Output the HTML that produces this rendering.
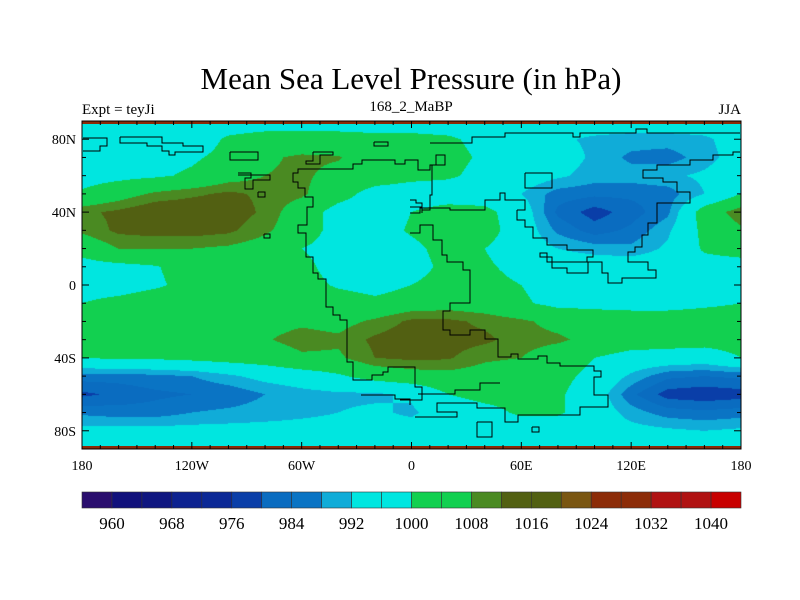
<!DOCTYPE html>
<html><head><meta charset="utf-8">
<style>
body{margin:0;background:#fff;}
#wrap{position:relative;width:800px;height:600px;overflow:hidden;background:#fff;font-family:"Liberation Serif",serif;}
canvas{position:absolute;left:82px;top:121px;}
svg{position:absolute;left:0;top:0;}
</style></head>
<body>
<div id="wrap">
<canvas id="field" width="659" height="328"></canvas>
<svg id="ov" width="800" height="600">
<text x="411" y="89" font-size="31" text-anchor="middle">Mean Sea Level Pressure (in hPa)</text>
<text x="82" y="114" font-size="15">Expt = teyJi</text>
<text x="411" y="111" font-size="15" text-anchor="middle">168_2_MaBP</text>
<text x="741" y="114" font-size="15" text-anchor="end">JJA</text>
</svg>
</div>
<script>
// grid data: longitudes, latitudes, pressure values (hPa)
const lons=[-180,-160,-140,-120,-100,-80,-60,-40,-20,0,20,40,60,80,100,120,140,160,180];
const lats=[90,80,70,60,50,40,30,20,10,0,-10,-20,-30,-40,-50,-60,-70,-80,-90];
const row90 =[996,996,996,996,996,996,996,996,996,996,996,996,996,996,996,996,996,996,996];
const row80 =[996,996,996,996,1001,1003,1003,1003,1002,1002,1001,998,996,993,991,990,990,991,995];
const row70 =[996,997,998,999,1002,1007,1009,1008.5,1004,1003,1002,999,997,995,991,987,986,990,995];
const row60 =[997,998,999,1001,1005,1008,1009,1006,1004,1002,1001,998,996,993,990,990,991,993,996];
const row50 =[1001,1005,1009,1011,1013,1011,1009,1003,997,996,996,996,992,986,985,985,986,992,1000];
const row40 =[1011,1013,1016,1016,1015,1011,1004,997,996,1000,1003,1002,996,983,978,982,987,1004,1011];
const row30 =[1009,1013,1014,1014,1013,1009,1004,997,996,1001,1004,1003,996,987,982,985,991,1002,1007];
const row20 =[1003,1008,1008,1008,1007,1005,1000,997,996,998,1003,1000,996,992,990,989,993,1001,1003];
const row10 =[997,998,999.5,1003,1004,1004,1002,997,996,997,1002,1001,998,996,996,996,996,997,997];
const row0  =[997,997,999,1002,1004,1004,1003,999,997,1000,1003,1002,1000,997,997,997,997,997,997];
const rowS10=[1000,1002,1004,1004,1004,1004,1005,1004,1002,1004,1005,1004,1001,998,998,998,998,999,1000];
const rowS20=[1003,1004,1005,1005,1005,1006,1007,1006,1009,1013,1013,1011,1009,1006,1004,1003,1003,1003,1003];
const rowS30=[1004,1005,1005,1005,1006,1007.5,1010,1009,1013,1015,1014,1013,1010,1009,1006,1004,1003,1003,1003];
const rowS40=[1000,1001,1001,1002,1003,1004,1007,1007,1012,1013,1012.5,1009,1008,1004,1000,997,997,996,1000];
const rowS50=[986,986,987,988,991,994,996,999,1003,1005,1006,1005,1004,1002,998,991,985,984,985];
const rowS60=[979,981,983,984,985,988,990,991,991,993,1000,1002,1002,1001,996,985,978,977,978];
const rowS70=[987,986,986,988,989,990,991,992,993,991,996,998,1001,1001,996,990,986,985,986];
const rowS80=[994,994,994,994,994,994,994,994,994,995,996,996,996,995,995,994,993,992,993];
const rowS90=[996,996,996,996,996,996,996,996,996,996,996,996,996,996,996,996,996,996,996];
const grid=[row90,row80,row70,row60,row50,row40,row30,row20,row10,row0,rowS10,rowS20,rowS30,rowS40,rowS50,rowS60,rowS70,rowS80,rowS90];
// colour levels
const levels=[960,964,968,972,976,980,984,988,992,996,1000,1004,1008,1012,1016,1020,1024,1028,1032,1036,1040];
const levelLabels=["960","968","976","984","992","1000","1008","1016","1024","1032","1040"];
const colors=["#2a0e6e","#11117c","#0f1680","#0d2290","#0b2896","#0a3ea8","#0a6cc0","#0a74c4","#10acd8","#00e6e0","#00e6e0","#12d050","#12d050","#4a8a22","#526012","#526012","#7a5612","#8c2c08","#8c2c08","#b01212","#b01212","#c80000"];

const X0=82,X1=741,Y0=121,Y1=449;
const xOf=lon=>X0+(lon+180)/360*(X1-X0);
const yOf=lat=>Y0+(90-lat)/180*(Y1-Y0);
function hex(c){return [parseInt(c.slice(1,3),16),parseInt(c.slice(3,5),16),parseInt(c.slice(5,7),16)];}
const rgb=colors.map(hex);
function binOf(v){let b=0;for(let i=0;i<levels.length;i++){if(v>=levels[i])b=i+1;}return b;}
function sample(lon,lat){
  const fx=(lon-lons[0])/(lons[1]-lons[0]);const fy=(lats[0]-lat)/(lats[0]-lats[1]);
  let i=Math.min(Math.floor(fx),lons.length-2),j=Math.min(Math.floor(fy),lats.length-2);
  i=Math.max(i,0);j=Math.max(j,0);
  const tx=fx-i,ty=fy-j;
  const a=grid[j][i],b=grid[j][i+1],c=grid[j+1][i],d=grid[j+1][i+1];
  return (a*(1-tx)+b*tx)*(1-ty)+(c*(1-tx)+d*tx)*ty;
}
const cv=document.getElementById('field');const ctx=cv.getContext('2d');
const W=cv.width,H=cv.height;const img=ctx.createImageData(W,H);
for(let py=0;py<H;py++){for(let px=0;px<W;px++){
  const lon=-180+(px+0.5)/W*360,lat=90-(py+0.5)/H*180;
  const c=rgb[binOf(sample(lon,lat))];const k=(py*W+px)*4;
  img.data[k]=c[0];img.data[k+1]=c[1];img.data[k+2]=c[2];img.data[k+3]=255;}}
ctx.putImageData(img,0,0);

const NS='http://www.w3.org/2000/svg';const ov=document.getElementById('ov');
function mk(t,a){const e=document.createElementNS(NS,t);for(const k in a)e.setAttribute(k,a[k]);ov.appendChild(e);return e;}

// coastline outlines (approximate, pixel traces)
const coasts=[
"83,138 107,138 107,146 100,146 100,151 83,151",
"120,137 120,143 147,143 147,146 162,146 162,151 169,151 169,155 175,155 175,152 203,152 203,146 183,146 183,143 162,143 162,137 120,137",
"374,142 388,142 388,146 374,146 374,142",
"230,152 258,152 258,160 230,160 230,152",
"313,152 333,152 333,155 320,155 320,164 306,164 306,161 313,161 313,152",
"238,173 251,173 251,178 245,178 245,189 253,189 253,180 270,180 270,175 238,175",
"258,192 265,192 265,197 258,197 258,192",
"264,234 270,234 270,238 264,238 264,234",
"410,160 405,160 405,164 395,164 395,160 362,160 362,164 353,164 353,169 298,169 298,173 293,173 293,182 298,182 298,188 305,188 305,197 313,197 313,207 307,207 307,225 298,225 298,233 306,233 306,257 313,257 313,273 318,273 318,279 326,279 326,307 333,307 333,315 340,315 340,320 347,320 347,362 353,362 353,380 372,380 372,375 383,375 383,372 388,372 388,367 410,367",
"400,367 415,367 415,387 422,387 422,400 400,400",
"361,395 395,395 395,399 410,399 410,405",
"410,160 418,160 418,170 430,170 430,165 445,165 445,155 436,155 436,165 432,165 432,195 430,195 430,210 422,210 422,207 410,207",
"430,143 472,143 472,137 505,137 505,133 573,133 573,137 580,137 580,133 636,133 636,129 647,129 647,133 740,133",
"740,152 733,152 733,155 713,155 713,160 690,160 690,165 657,165 657,170 643,170 643,178 663,178 663,182 677,182 677,192 690,192 690,203 657,203 657,223 648,223 648,235 642,235 642,247 635,247 635,252 628,252 628,262 648,262 648,270 656,270 656,278 622,278 622,283 608,283 608,273 602,273 602,262 588,262 588,273 567,273 567,268 552,268 552,257 540,257 540,253 547,253 547,262 587,262 587,257 593,257 593,250 567,250 567,245 547,245 547,238 533,238 533,227 525,227 525,220 517,220 517,210",
"525,173 552,173 552,188 525,188 525,173",
"517,210 525,210 525,200 505,200 505,193 500,193 500,200 485,200 485,210 450,210 450,208 420,208 420,213 410,213",
"410,200 416,200 416,203 422,203 422,213",
"410,233 420,233 420,225 433,225 433,240 442,240 442,255 447,255 447,262 463,262 463,270 470,270 470,303 450,303 450,311 443,311 443,330 450,330 450,335 470,335 470,330 485,330 485,339 498,339 498,357 511,357 511,354 518,354 518,359 538,359 538,356 547,356 547,363 560,363 560,366 594,366 594,371 601,371 601,377 594,377 594,395 608,395 608,407 580,407 580,415 518,415 518,422 505,422 505,408 477,408 477,403 437,403 437,412 457,412 457,417 415,417",
"477,422 492,422 492,437 477,437 477,422",
"532,427 539,427 539,432 532,432 532,427",
"418,394 455,394 455,390 480,390 480,383 500,383"
];
coasts.forEach((p,i)=>{
  const e=mk('polyline',{points:p,fill:'none',stroke:'#000','stroke-width':'1'});
  
  
});

// top/bottom edge strips
const s1=mk('rect',{x:X0,y:Y0,width:X1-X0,height:3,fill:'#8a2a08'});


const s2=mk('rect',{x:X0,y:Y1-3,width:X1-X0,height:3,fill:'#8a2a08'});



// frame
const fr=mk('rect',{x:X0,y:Y0,width:X1-X0,height:Y1-Y0,fill:'none',stroke:'#000','stroke-width':'1'});



// ticks
const xTickVals=[-180,-120,-60,0,60,120,180];
const xTickLabels=["180","120W","60W","0","60E","120E","180"];
const yTickVals=[80,40,0,-40,-80];
const yTickLabels=["80N","40N","0","40S","80S"];
for(let lon=-180;lon<=180;lon+=10){
  const maj=lon%60===0;const x=xOf(lon);const L=maj?7:4;
  const t1=mk('line',{x1:x,y1:Y1,x2:x,y2:Y1-L,stroke:'#000'});
  
  
  const t2=mk('line',{x1:x,y1:Y0,x2:x,y2:Y0+L,stroke:'#000'});
  
  
}
for(let lat=-90;lat<=90;lat+=10){
  const maj=lat%40===0;const y=yOf(lat);const L=maj?7:4;
  const t1=mk('line',{x1:X0,y1:y,x2:X0+L,y2:y,stroke:'#000'});
  
  
  const t2=mk('line',{x1:X1,y1:y,x2:X1-L,y2:y,stroke:'#000'});
  
  
}
xTickVals.forEach((v,i)=>{
  const t=mk('text',{x:xOf(v),y:470,'font-size':'14','text-anchor':'middle'});
  t.textContent=xTickLabels[i];
  
  
});
yTickVals.forEach((v,i)=>{
  const t=mk('text',{x:76,y:yOf(v)+5,'font-size':'14','text-anchor':'end'});
  t.textContent=yTickLabels[i];
  
  
});

// colorbar
const CB0=82,CB1=741,CBY=492,CBH=16;const bw=(CB1-CB0)/colors.length;
colors.forEach((c,i)=>{
  const r=mk('rect',{x:CB0+i*bw,y:CBY,width:bw,height:CBH,fill:c,stroke:'#333','stroke-width':'0.6'});
  
  
});
levelLabels.forEach((lab,i)=>{
  const t=mk('text',{x:CB0+(1+2*i)*bw,y:529,'font-size':'17','text-anchor':'middle'});
  t.textContent=lab;
  
  
});
</script>
</body></html>
